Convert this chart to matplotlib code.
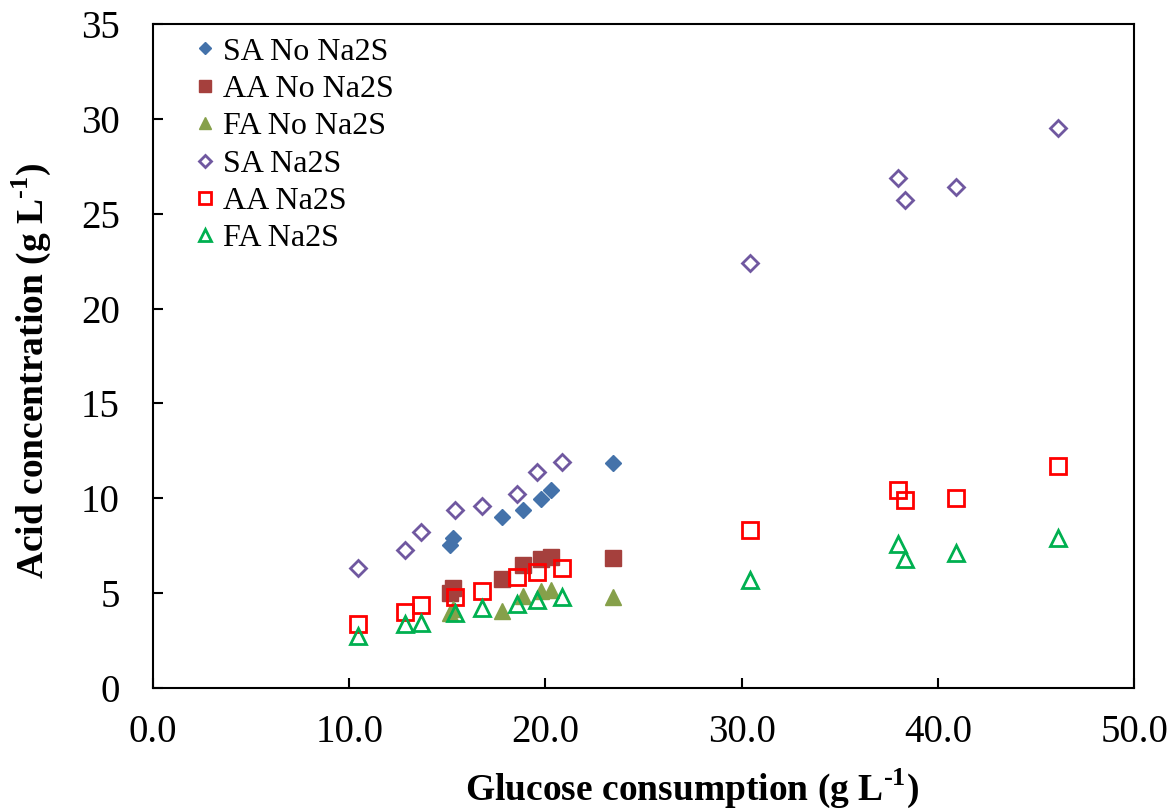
import numpy as np
import matplotlib.pyplot as plt
from matplotlib.ticker import MultipleLocator, FormatStrFormatter

plt.rcParams['font.family'] = ['Liberation Serif', 'DejaVu Serif']
plt.rcParams['mathtext.fontset'] = 'custom'
plt.rcParams['mathtext.rm'] = 'Liberation Serif'
plt.rcParams['mathtext.bf'] = 'Liberation Serif:bold'

# glucose consumption (g/L) and acid concentration (g/L)
glc_no = [15.14, 15.29, 17.79, 18.86, 19.78, 20.29, 23.45]
sa_no = [7.53, 7.89, 9.00, 9.37, 9.95, 10.42, 11.84]
aa_no = [5.02, 5.25, 5.74, 6.47, 6.79, 6.89, 6.84]
fa_no = [3.96, 4.16, 4.07, 4.84, 5.10, 5.16, 4.81]

glc_na = [10.45, 12.84, 13.66, 15.39, 16.77, 18.55, 19.57, 20.84,
          30.43, 37.97, 38.33, 40.93, 46.13]
sa_na = [6.32, 7.26, 8.21, 9.37, 9.58, 10.21, 11.37, 11.89,
         22.42, 26.89, 25.74, 26.42, 29.53]
aa_na = [3.37, 4.02, 4.37, 4.81, 5.10, 5.83, 6.10, 6.33,
         8.32, 10.42, 9.89, 10.02, 11.68]
fa_na = [2.74, 3.37, 3.40, 3.96, 4.19, 4.42, 4.63, 4.81,
         5.68, 7.58, 6.79, 7.14, 7.93]

fig = plt.figure(figsize=(11.74, 8.09), dpi=100)
ax = fig.add_axes([0.1303, 0.1496, 0.8357, 0.8207])

ax.plot(glc_no, sa_no, 'D', ms=8, color='#4472AA', mec='#4472AA', label='SA No Na2S', ls='none')
ax.plot(glc_no, aa_no, 's', ms=11, color='#A5403D', mec='#A5403D', label='AA No Na2S', ls='none')
ax.plot(glc_no, fa_no, '^', ms=11, color='#86A04A', mec='#86A04A', label='FA No Na2S', ls='none')
ax.plot(glc_na, sa_na, 'D', ms=8, mfc='none', mec='#7058A0', mew=2, label='SA Na2S', ls='none')
ax.plot(glc_na, aa_na, 's', ms=11.5, mfc='none', mec='#FF0000', mew=2, label='AA Na2S', ls='none')
ax.plot(glc_na, fa_na, '^', ms=12, mfc='none', mec='#00B050', mew=2, label='FA Na2S', ls='none')

ax.set_xlim(0, 50)
ax.set_ylim(0, 35)
ax.xaxis.set_major_locator(MultipleLocator(10))
ax.xaxis.set_major_formatter(FormatStrFormatter('%.1f'))
ax.yaxis.set_major_locator(MultipleLocator(5))
ax.tick_params(direction='in', length=7, width=1.5, labelsize=28)
ax.tick_params(axis='x', pad=19)
ax.tick_params(axis='y', pad=24)
for s in ax.spines.values():
    s.set_linewidth(1.5)

ax.set_xlabel('Glucose consumption (g L$^{\\mathbf{\u2010}\\mathbf{1}}$)', fontsize=27,
              fontweight='bold', labelpad=11)
ax.set_ylabel('Acid concentration (g L$^{\\mathbf{\u2010}\\mathbf{1}}$)', fontsize=27,
              fontweight='bold', labelpad=20)
ax.xaxis.label.set_x(0.549)
ax.yaxis.label.set_y(0.477)

ax.legend(loc='upper left', frameon=False, fontsize=23, handlelength=0.8,
          handletextpad=0.15, labelspacing=0.25, markerscale=0.75,
          borderaxespad=0, borderpad=0, bbox_to_anchor=(0.04, 0.98))

fig.savefig('out.png', dpi=100)
